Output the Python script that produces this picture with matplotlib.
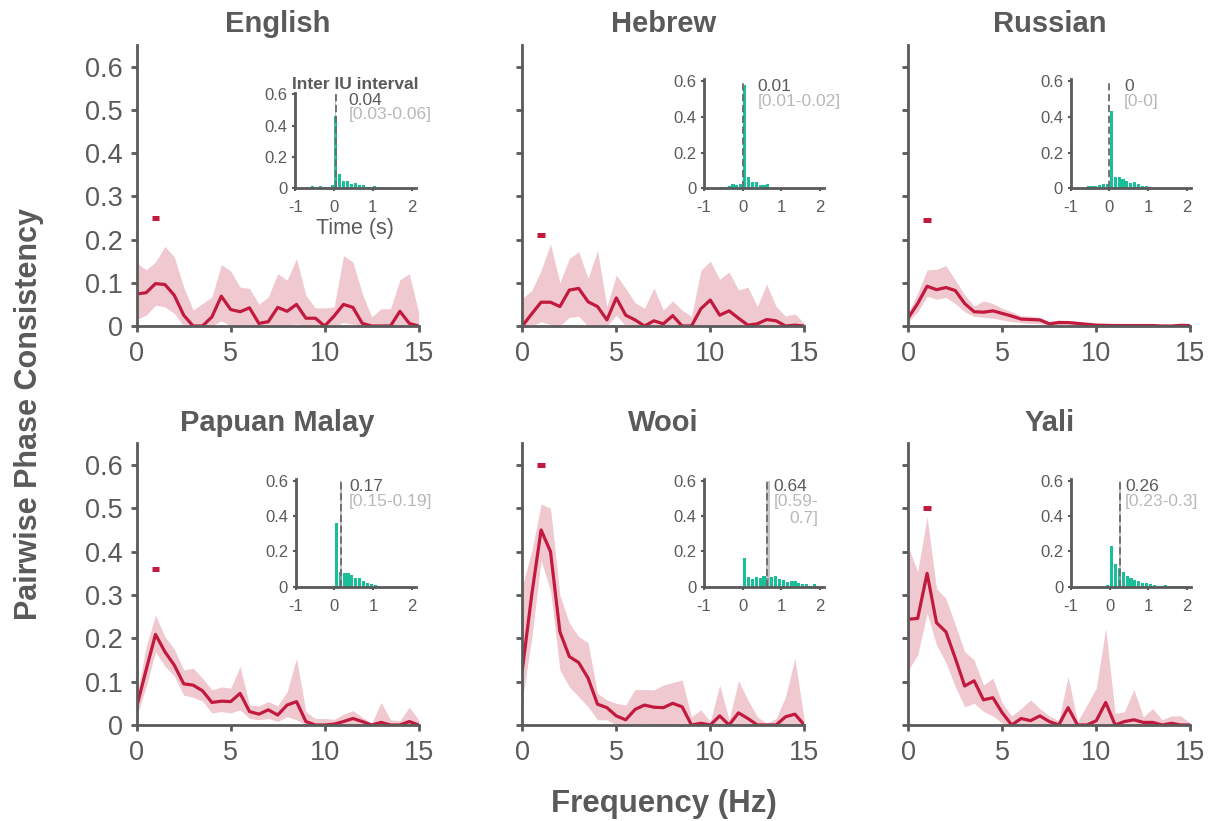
import matplotlib
matplotlib.use("Agg")
import matplotlib.pyplot as plt
from matplotlib.ticker import FuncFormatter

plt.rcParams['font.family'] = ['Liberation Sans', 'DejaVu Sans']
plt.rcParams['axes.unicode_minus'] = False

GRAY = '#5a5a5a'
LIGHT = '#b8b8b8'
RED = '#c21a3e'
TEAL = '#1abf99'
W, H = 1214, 821

languages = ['English', 'Hebrew', 'Russian', 'Papuan Malay', 'Wooi', 'Yali']

freqs = [0, 0.5, 1, 1.5, 2, 2.5, 3, 3.5, 4, 4.5, 5, 5.5, 6, 6.5, 7, 7.5,
         8, 8.5, 9, 9.5, 10, 10.5, 11, 11.5, 12, 12.5, 13, 13.5, 14, 14.5, 15]

# pairwise phase consistency: mean and band limits per language
ppc_mean = {
    'English': [0.074, 0.077, 0.098, 0.096, 0.071, 0.025, 0, 0, 0.021, 0.069, 0.038, 0.033, 0.042, 0.006, 0.01, 0.043,
                0.034, 0.05, 0.018, 0.018, 0, 0.023, 0.05, 0.043, 0.006, 0, 0, 0, 0.034, 0.006, 0],
    'Hebrew': [0, 0.028, 0.055, 0.055, 0.045, 0.083, 0.087, 0.056, 0.045, 0.014, 0.065, 0.025, 0.014, 0, 0.012, 0.005,
               0.024, 0, 0, 0.04, 0.06, 0.025, 0.035, 0.018, 0.002, 0.005, 0.015, 0.012, 0, 0.002, 0],
    'Russian': [0.019, 0.052, 0.092, 0.084, 0.089, 0.082, 0.052, 0.033, 0.032, 0.035, 0.029, 0.023, 0.016, 0.015, 0.014,
                0.005, 0.008, 0.008, 0.006, 0.004, 0.002, 0.0015, 0.001, 0.001, 0.001, 0.001, 0.001, 0, 0, 0.0015, 0.001],
    'Papuan Malay': [0.042, 0.127, 0.209, 0.169, 0.138, 0.095, 0.092, 0.079, 0.052, 0.055, 0.054, 0.073, 0.031, 0.025,
                     0.035, 0.023, 0.046, 0.054, 0.008, 0, 0, 0.002, 0.008, 0.015, 0.008, 0, 0.006, 0, 0, 0.008, 0],
    'Wooi': [0.127, 0.30, 0.45, 0.40, 0.215, 0.158, 0.144, 0.108, 0.048, 0.04, 0.021, 0.012, 0.036, 0.046, 0.041, 0.04,
             0.05, 0.042, 0, 0.004, 0, 0.021, 0, 0.028, 0.015, 0, 0, 0, 0.019, 0.025, 0],
    'Yali': [0.244, 0.246, 0.35, 0.236, 0.215, 0.154, 0.09, 0.102, 0.058, 0.063, 0.028, 0, 0.015, 0.01, 0.021, 0.008,
             0, 0.04, 0, 0, 0.01, 0.052, 0, 0.008, 0.012, 0.006, 0.006, 0, 0.004, 0, 0],
}
ppc_upper = {
    'English': [0.146, 0.13, 0.148, 0.184, 0.16, 0.09, 0.037, 0.052, 0.067, 0.142, 0.127, 0.09, 0.087, 0.05, 0.067,
                0.121, 0.106, 0.156, 0.071, 0.042, 0.042, 0.044, 0.163, 0.148, 0.075, 0.021, 0.04, 0.04, 0.107, 0.121,
                0.031],
    'Hebrew': [0.064, 0.082, 0.129, 0.19, 0.1, 0.156, 0.172, 0.11, 0.175, 0.045, 0.118, 0.087, 0.054, 0.041, 0.088,
               0.037, 0.058, 0.037, 0.022, 0.129, 0.15, 0.108, 0.125, 0.083, 0.09, 0.045, 0.097, 0.045, 0.023, 0.028,
               0.006],
    'Russian': [0.031, 0.076, 0.13, 0.131, 0.14, 0.106, 0.072, 0.046, 0.058, 0.052, 0.041, 0.033, 0.023, 0.023, 0.02,
                0.01, 0.014, 0.012, 0.01, 0.006, 0.005, 0.004, 0.004, 0.004, 0.004, 0.003, 0.003, 0.003, 0.003, 0.005,
                0.003],
    'Papuan Malay': [0.065, 0.18, 0.254, 0.204, 0.175, 0.127, 0.131, 0.108, 0.081, 0.088, 0.085, 0.135, 0.046, 0.044,
                     0.054, 0.044, 0.077, 0.154, 0.031, 0.015, 0.015, 0.013, 0.025, 0.033, 0.018, 0.004, 0.052, 0.012,
                     0.01, 0.041, 0.012],
    'Wooi': [0.32, 0.40, 0.51, 0.50, 0.30, 0.235, 0.204, 0.19, 0.073, 0.058, 0.05, 0.046, 0.082, 0.082, 0.081, 0.092,
             0.098, 0.104, 0.019, 0.035, 0.008, 0.092, 0.012, 0.102, 0.058, 0.019, 0.004, 0.015, 0.065, 0.154, 0.01],
    'Yali': [0.41, 0.354, 0.48, 0.315, 0.292, 0.231, 0.169, 0.15, 0.092, 0.108, 0.05, 0.021, 0.038, 0.058, 0.038,
             0.021, 0.01, 0.112, 0.008, 0.046, 0.085, 0.223, 0.027, 0.031, 0.082, 0.019, 0.038, 0.012, 0.021, 0.021,
             0.004],
}
ppc_lower = {
    'English': [0.015, 0.025, 0.048, 0.044, 0.029, 0, 0, 0, 0, 0.012, 0, 0, 0, 0, 0, 0,
                0, 0.005, 0, 0, 0, 0, 0.008, 0.004, 0, 0, 0, 0, 0, 0, 0],
    'Hebrew': [0, 0, 0.01, 0.003, 0, 0.02, 0.022, 0, 0, 0, 0.025, 0, 0, 0, 0, 0,
               0, 0, 0, 0, 0, 0, 0, 0, 0, 0, 0, 0, 0, 0, 0],
    'Russian': [0.01, 0.033, 0.069, 0.062, 0.066, 0.052, 0.033, 0.022, 0.02, 0.018, 0.014, 0.01, 0.008, 0.006, 0.005,
                0.002, 0.003, 0.003, 0.002, 0.001, 0, 0, 0, 0, 0, 0, 0, 0, 0, 0, 0],
    'Papuan Malay': [0.019, 0.088, 0.169, 0.136, 0.113, 0.069, 0.064, 0.055, 0.028, 0.031, 0.028, 0.035, 0.015, 0.012,
                     0.015, 0.008, 0.019, 0.012, 0, 0, 0, 0, 0, 0, 0, 0, 0, 0, 0, 0, 0],
    'Wooi': [0.058, 0.2, 0.38, 0.31, 0.127, 0.088, 0.065, 0.042, 0.012, 0.012, 0, 0, 0, 0.003, 0, 0,
             0, 0, 0, 0, 0, 0, 0, 0, 0, 0, 0, 0, 0, 0, 0],
    'Yali': [0.127, 0.162, 0.258, 0.185, 0.144, 0.088, 0.042, 0.05, 0.031, 0.021, 0.004, 0, 0, 0, 0, 0,
             0, 0, 0, 0, 0, 0, 0, 0, 0, 0, 0, 0, 0, 0, 0],
}

# small red marker above each curve
peak_freq = [1, 1, 1, 1, 1, 1]
peak_y = [0.25, 0.21, 0.245, 0.36, 0.6, 0.5]

# inset histograms of inter-IU intervals (bin centres in s)
hist_bins = [-0.95, -0.85, -0.75, -0.65, -0.55, -0.45, -0.35, -0.25, -0.15, -0.05,
             0.05, 0.15, 0.25, 0.35, 0.45, 0.55, 0.65, 0.75, 0.85, 0.95,
             1.05, 1.15, 1.25, 1.35, 1.45, 1.55, 1.65, 1.75, 1.85, 1.95]
hist_vals = {
    'English': [0.002, 0.002, 0.003, 0.004, 0.012, 0.004, 0.015, 0.01, 0.006, 0.02,
                0.46, 0.094, 0.045, 0.045, 0.028, 0.034, 0.02, 0.02, 0.008, 0.008,
                0.012, 0.008, 0.005, 0.004, 0.004, 0.005, 0.003, 0.002, 0.002, 0.001],
    'Hebrew': [0.001, 0.001, 0.002, 0.003, 0.007, 0.009, 0.015, 0.022, 0.018, 0.022,
               0.58, 0.065, 0.033, 0.037, 0.018, 0.017, 0.024, 0.003, 0.002, 0.001,
               0.001, 0, 0, 0, 0, 0, 0, 0, 0, 0],
    'Russian': [0.001, 0.002, 0.003, 0.004, 0.013, 0.013, 0.015, 0.019, 0.022, 0.024,
                0.432, 0.061, 0.061, 0.052, 0.041, 0.028, 0.034, 0.024, 0.015, 0.013,
                0.007, 0.003, 0.002, 0.002, 0.001, 0.001, 0.001, 0, 0, 0],
    'Papuan Malay': [0, 0, 0, 0, 0, 0, 0, 0, 0, 0.006,
                     0.363, 0.084, 0.08, 0.078, 0.065, 0.052, 0.047, 0.032, 0.019, 0.013,
                     0.007, 0.004, 0.001, 0.001, 0.001, 0.001, 0, 0, 0, 0],
    'Wooi': [0, 0, 0, 0, 0, 0, 0, 0, 0, 0.005,
             0.161, 0.056, 0.041, 0.054, 0.048, 0.063, 0.05, 0.056, 0.061, 0.046,
             0.037, 0.026, 0.031, 0.031, 0.02, 0.018, 0.018, 0.004, 0.017, 0.004],
    'Yali': [0, 0, 0, 0, 0, 0, 0, 0, 0, 0.009,
             0.231, 0.127, 0.108, 0.084, 0.063, 0.05, 0.039, 0.034, 0.022, 0.019,
             0.013, 0.011, 0.006, 0.004, 0.007, 0.003, 0.003, 0.002, 0.002, 0.001],
}
median_iu = [0.04, 0.01, 0, 0.17, 0.64, 0.26]
ci_low = [0.03, 0.01, 0, 0.15, 0.59, 0.23]
ci_high = [0.06, 0.02, 0, 0.19, 0.7, 0.3]
median_text = ['0.04', '0.01', '0', '0.17', '0.64', '0.26']
ci_text = ['[0.03-0.06]', '[0.01-0.02]', '[0-0]', '[0.15-0.19]', '[0.59-\n0.7]', '[0.23-0.3]']


def px_box(left, top, right, bottom):
    return [left / W, 1 - bottom / H, (right - left) / W, (bottom - top) / H]


def fmt(v, pos):
    return '%g' % round(v, 2)


col_left = [136.7, 522.3, 908.3]
row_top = [45, 443.3]
row_bottom = [326, 725]
inset_boxes = [(295.2, 92.7, 415.5, 188.3), (704, 79.3, 824, 188.3), (1070.7, 79.3, 1190.7, 188.3),
               (295.7, 479.3, 415.7, 586.7), (704, 479.3, 824, 586.7), (1071, 479.3, 1191, 586.7)]

fig = plt.figure(figsize=(W / 100, H / 100), dpi=100)

for i, lang in enumerate(languages):
    r, c = divmod(i, 3)
    ax = fig.add_axes(px_box(col_left[c], row_top[r], col_left[c] + 282, row_bottom[r]))
    ax.fill_between(freqs, ppc_lower[lang], ppc_upper[lang], color=RED, alpha=0.24, lw=0)
    ax.plot(freqs, ppc_mean[lang], color=RED, lw=2.3)
    ax.hlines(peak_y[i], peak_freq[i] - 0.2, peak_freq[i] + 0.2, color=RED, lw=3.6)
    ax.set_xlim(0, 15)
    ax.set_ylim(0, 0.65)
    ax.set_xticks([0, 5, 10, 15])
    ax.set_yticks([0, 0.1, 0.2, 0.3, 0.4, 0.5, 0.6])
    ax.yaxis.set_major_formatter(FuncFormatter(fmt))
    for s in ['top', 'right']:
        ax.spines[s].set_visible(False)
    for s in ['left', 'bottom']:
        ax.spines[s].set_color(GRAY)
        ax.spines[s].set_linewidth(2)
    ax.tick_params(direction='out', length=4, width=2, colors=GRAY, labelsize=19.5)
    ax.tick_params(axis='x', pad=7)
    ax.tick_params(axis='y', pad=6)
    if c > 0:
        ax.tick_params(labelleft=False)
    ax.set_title(lang, fontsize=21, fontweight='bold', color=GRAY, pad=9)

    # inset histogram
    ia = fig.add_axes(px_box(*inset_boxes[i]))
    ia.bar(hist_bins, hist_vals[lang], width=0.08, color=TEAL, lw=0)
    ia.fill_betweenx([0, 0.6], ci_low[i], ci_high[i], color='#a0a0a0', alpha=0.6, lw=0)
    ia.vlines(median_iu[i], 0, 0.6, color='#6a6a6a', lw=1.3, linestyles=(0, (4, 2)))
    tx = max(0.38, ci_high[i] + 0.1)
    ia.text(tx, 0.61, median_text[i], color=GRAY, fontsize=12.5, va='top', ha='left')
    ia.annotate(ci_text[i], xy=(tx, 0.61), xytext=(0, -10.5), textcoords='offset points',
                va='top', ha='left', color=LIGHT, fontsize=12.5, multialignment='right')
    ia.set_xlim(-1, 2.1)
    ia.set_ylim(0, 0.61)
    ia.set_xticks([-1, 0, 1, 2])
    ia.set_yticks([0, 0.2, 0.4, 0.6])
    ia.yaxis.set_major_formatter(FuncFormatter(fmt))
    for s in ['top', 'right']:
        ia.spines[s].set_visible(False)
    for s in ['left', 'bottom']:
        ia.spines[s].set_color(GRAY)
        ia.spines[s].set_linewidth(2)
    ia.tick_params(direction='out', length=2.5, width=1.5, colors=GRAY, labelsize=12)
    ia.tick_params(axis='x', pad=6)
    ia.tick_params(axis='y', pad=3)
    if i == 0:
        ia.set_title('Inter IU interval', fontsize=12.5, fontweight='bold', color=GRAY, pad=3)
        ia.set_xlabel('Time (s)', fontsize=15.5, color=GRAY, labelpad=2)

fig.text(0.024, 0.496, 'Pairwise Phase Consistency', rotation=90, ha='center', va='center',
         fontsize=22, fontweight='bold', color=GRAY)
fig.text(0.547, 1 - 811.7 / H, 'Frequency (Hz)', ha='center', va='baseline',
         fontsize=22.5, fontweight='bold', color=GRAY)

fig.savefig('out.png', dpi=100)
